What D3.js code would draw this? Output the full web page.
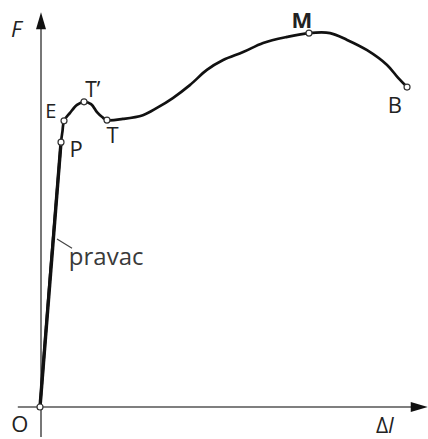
<!DOCTYPE html>
<html><head><meta charset="utf-8">
<script src="https://cdn.jsdelivr.net/npm/d3@7"></script>
<style>body{margin:0;background:#fff}svg{display:block}</style>
</head><body>
<svg id="c" width="428" height="439"></svg>
<script>
// Force–elongation curve (data units: Δl 0..100, F 0..100)
const curveDl = [0, 5.68, 6.08, 6.49, 8.11, 10.0, 11.9, 13.8, 15.4, 16.8, 18.1, 22.4, 27.8, 31.6, 35.9, 40.5, 45.1, 49.5, 54.9, 60.3, 66.8, 72.7, 78.4, 83.0, 88.4, 93.8, 96.8, 99.2];
const curveF  = [0, 69.7, 72.6, 75.3, 77.4, 79.5, 80.3, 79.7, 77.6, 76.3, 75.5, 75.8, 76.8, 78.7, 81.3, 84.7, 88.7, 91.3, 93.4, 95.8, 97.4, 98.4, 98.4, 96.6, 93.9, 90.0, 86.6, 84.2];
// marked points
const ptNames = ["O", "P", "E", "T’", "T", "M", "B"];
const ptDl    = [0, 5.68, 6.49, 11.9, 18.1, 72.7, 99.2];
const ptF     = [0, 69.7, 75.3, 80.3, 75.5, 98.4, 84.2];
// label anchors (baseline-left)
const lblDl   = [-7.8, 8.0, 1.4, 12.2, 18.0, 68.0, 94.0];
const lblF    = [-6.6, 65.8, 76.1, 81.6, 69.5, 99.7, 77.4];
const lblSize = [22, 22, 20, 21, 22, 22, 22];
const lblBold = [false, false, false, false, false, true, false];
// "pravac" annotation
const pravacDl = [4.6, 8.65, 7.8];
const pravacF  = [44.2, 41.8, 37.4];
const axisDl = [-6, 104.8];
const axisF  = [-7.9, 103.9];

const svg = d3.select("#c");
const x = d3.scaleLinear().domain([0, 100]).range([40, 410]);
const y = d3.scaleLinear().domain([0, 100]).range([407, 27]);

const axCol = "#555";
// axes
svg.append("line").attr("x1", x(axisDl[0])).attr("x2", x(axisDl[1]) - 10)
  .attr("y1", y(0)).attr("y2", y(0)).attr("stroke", axCol).attr("stroke-width", 1.6);
svg.append("line").attr("x1", x(0) + 1).attr("x2", x(0) + 1)
  .attr("y1", y(axisF[0])).attr("y2", y(axisF[1]) + 10).attr("stroke", axCol).attr("stroke-width", 1.6);
// arrowheads
const xt = x(axisDl[1]), yt = y(0);
svg.append("path").attr("d", `M${xt},${yt} L${xt-17},${yt-5} L${xt-17},${yt+5} Z`).attr("fill", "#111");
const ax = x(0) + 1, at = y(axisF[1]);
svg.append("path").attr("d", `M${ax},${at} L${ax-5},${at+17} L${ax+5},${at+17} Z`).attr("fill", "#111");

// curve
const line = d3.line().x((d, i) => x(curveDl[i])).y((d, i) => y(curveF[i])).curve(d3.curveCatmullRom.alpha(0.5));
svg.append("path").datum(curveDl).attr("d", line).attr("fill", "none")
  .attr("stroke", "#111").attr("stroke-width", 2.7).attr("stroke-linejoin", "round").attr("stroke-linecap", "round");
// thicker straight (linear) part
svg.append("line").attr("x1", x(curveDl[0])).attr("y1", y(curveF[0]))
  .attr("x2", x(curveDl[1])).attr("y2", y(curveF[1])).attr("stroke", "#111").attr("stroke-width", 3.4);

// pravac leader + text
svg.append("line").attr("x1", x(pravacDl[0])).attr("y1", y(pravacF[0]))
  .attr("x2", x(pravacDl[1])).attr("y2", y(pravacF[1])).attr("stroke", "#444").attr("stroke-width", 1.2);
svg.append("text").attr("x", x(pravacDl[2])).attr("y", y(pravacF[2]))
  .attr("font-family", "Open Sans, sans-serif").attr("font-size", 24).attr("fill", "#3a3a3a").text("pravac");

// points
svg.selectAll("circle.pt").data(ptDl).join("circle").attr("class", "pt")
  .attr("cx", (d, i) => x(ptDl[i])).attr("cy", (d, i) => y(ptF[i])).attr("r", 3)
  .attr("fill", "#fff").attr("stroke", "#333").attr("stroke-width", 1.2);

// point labels
svg.selectAll("text.lbl").data(ptNames).join("text").attr("class", "lbl")
  .attr("x", (d, i) => x(lblDl[i])).attr("y", (d, i) => y(lblF[i]))
  .attr("font-family", "Open Sans, sans-serif").attr("font-size", (d, i) => lblSize[i])
  .attr("font-weight", (d, i) => lblBold[i] ? "bold" : "normal")
  .attr("fill", "#222").text(d => d);

// axis titles
svg.append("text").attr("x", 11).attr("y", 37).attr("font-family", "Open Sans, sans-serif")
  .attr("font-size", 22).attr("font-style", "italic").attr("fill", "#222").text("F");
const dl = svg.append("text").attr("x", 376).attr("y", 433).attr("font-family", "Open Sans, sans-serif")
  .attr("font-size", 21).attr("fill", "#222");
dl.append("tspan").text("Δ");
dl.append("tspan").attr("font-style", "italic").text("l");
</script>
</body></html>
